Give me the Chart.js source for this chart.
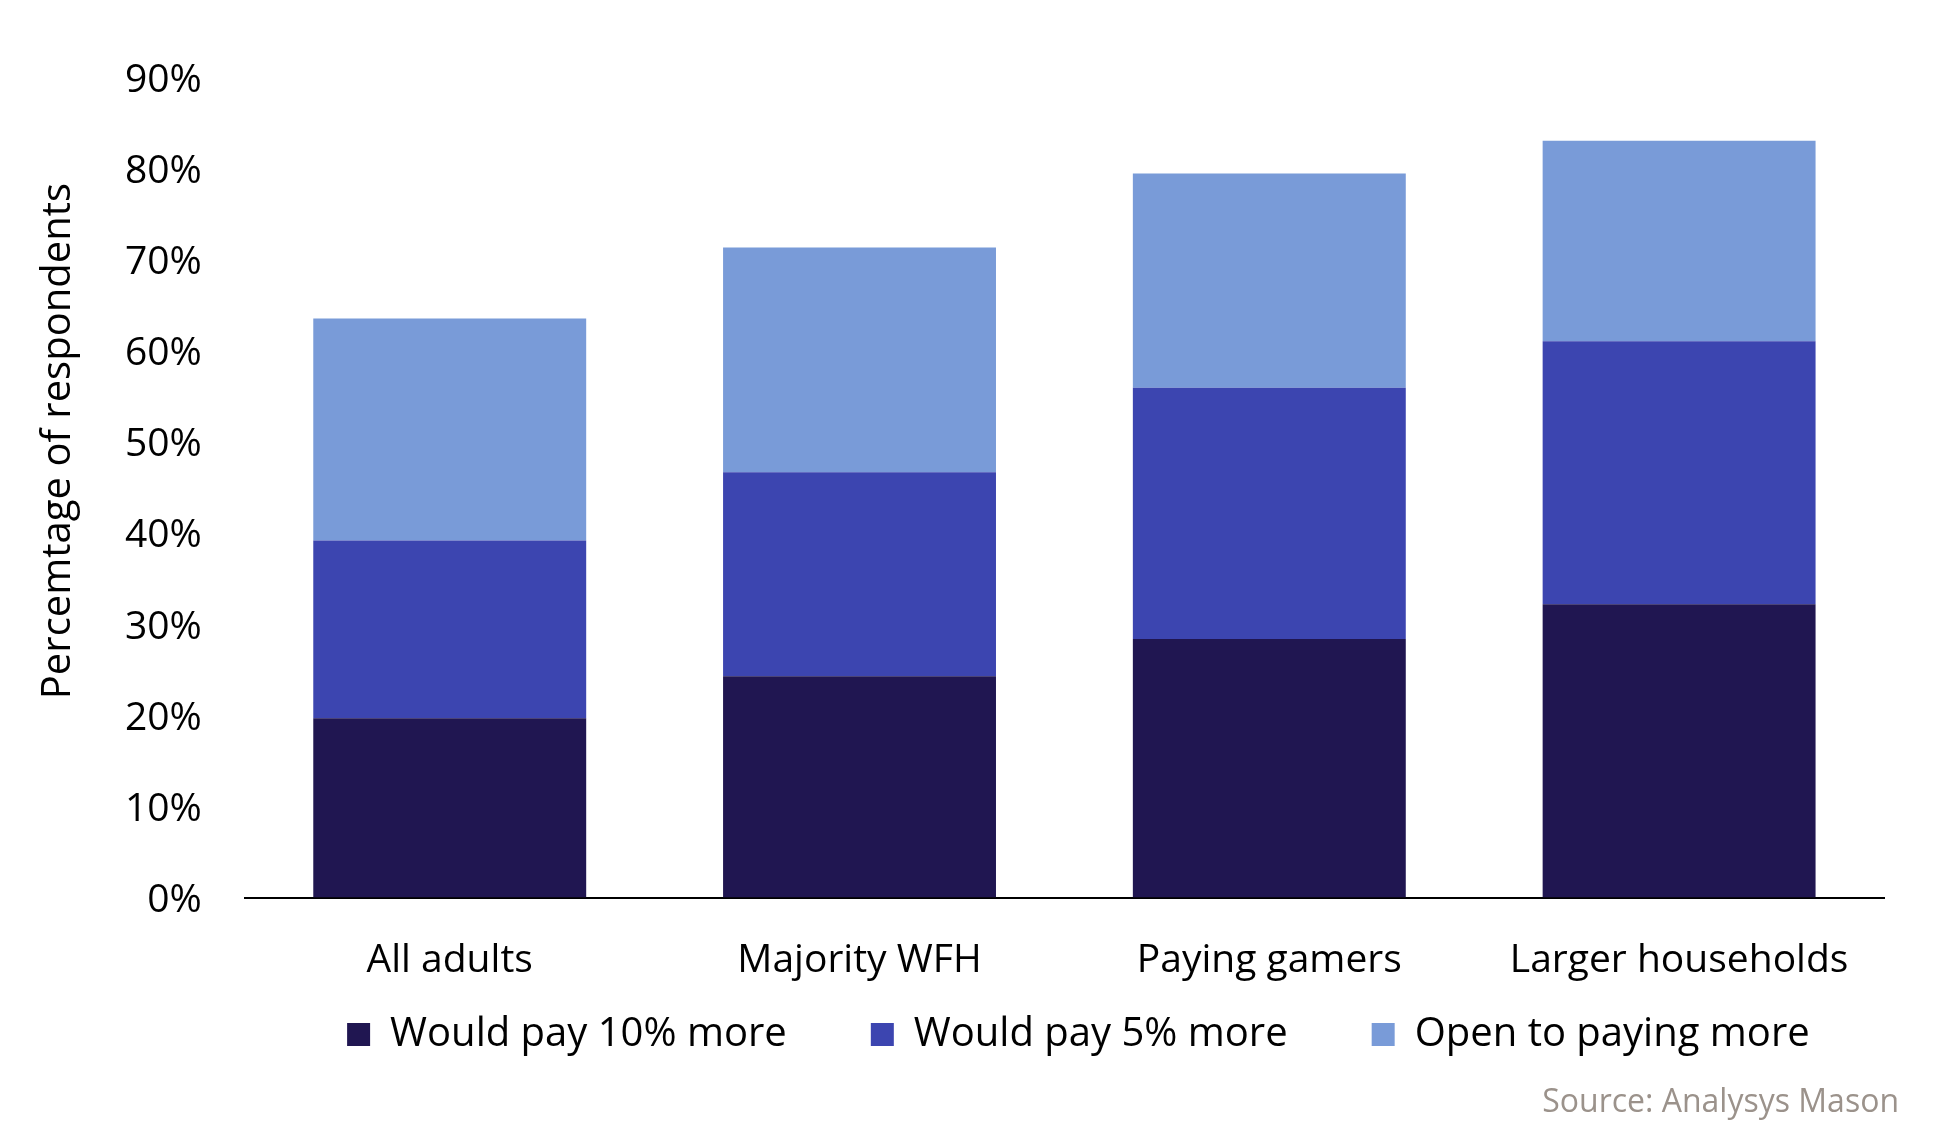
<!DOCTYPE html>
<html>
<head>
<meta charset="utf-8">
<script src="https://cdn.jsdelivr.net/npm/chart.js@4.4.1/dist/chart.umd.min.js"></script>
<style>
  html, body { margin: 0; padding: 0; background: #fff; }
  #wrap { width: 1934px; height: 1123px; }
</style>
</head>
<body>
<div id="wrap"><canvas id="barCanvas" width="1934" height="1123"></canvas></div>
<script>
const categories = ["All adults", "Majority WFH", "Paying gamers", "Larger households"];
const pay10 = [19.7, 24.3, 28.4, 32.2];
const pay5 = [19.5, 22.4, 27.6, 28.9];
const openToPay = [24.4, 24.7, 23.5, 22.0];
const seriesNames = ["Would pay 10% more", "Would pay 5% more", "Open to paying more"];
const seriesColors = ["#201651", "#3C45B0", "#799BD8"];
const yTitle = "Percemtage of respondents";
const sourceText = "Source: Analysys Mason";

const FONT = "Open Sans";

// the legend padding is used both as the gap between items and above them,
// so pull the legend box back up under the x labels after layout.
// also nudge legend and source note to the right like the original
const boxNudge = {
    id: "boxNudge",
    afterLayout(chart) {
        const lg = chart.legend;
        const lift = lg.options.labels.padding - 29;
        lg.top -= lift;
        lg.height += lift;
        lg.left += 14;
        lg.right += 14;
        chart.boxes.forEach((b) => {
            if (b.options && b.options.text === sourceText) {
                b.left += 15;
                b.right += 15;
            }
        });
    }
};

// y title sits a bit above the middle of the axis in the original
const yTitlePlugin = {
    id: "yTitlePlugin",
    afterDraw(chart) {
        const { ctx, chartArea } = chart;
        const cy = chartArea.top + (chartArea.bottom - chartArea.top) * 0.443;
        ctx.save();
        ctx.translate(59, cy);
        ctx.rotate(-Math.PI / 2);
        ctx.font = "40px '" + FONT + "'";
        ctx.fillStyle = "#000";
        ctx.textAlign = "center";
        ctx.textBaseline = "middle";
        ctx.fillText(yTitle, 0, 0);
        ctx.restore();
    }
};

const barCanvas = document.getElementById("barCanvas");
const barChart = new Chart(barCanvas, {
    type: "bar",
    data: {
        labels: categories,
        datasets: [
            { label: seriesNames[0], data: pay10, backgroundColor: seriesColors[0] },
            { label: seriesNames[1], data: pay5, backgroundColor: seriesColors[1] },
            { label: seriesNames[2], data: openToPay, backgroundColor: seriesColors[2] }
        ]
    },
    plugins: [boxNudge, yTitlePlugin],
    options: {
        responsive: false,
        animation: false,
        categoryPercentage: 1,
        barPercentage: 0.666,
        borderWidth: 0,
        layout: {
            padding: { top: 78, left: 82, right: 50, bottom: 0 }
        },
        scales: {
            x: {
                stacked: true,
                grid: { display: false, drawTicks: false },
                border: { display: true, color: "#000", width: 2 },
                ticks: {
                    padding: 40,
                    color: "#000",
                    font: { family: FONT, size: 39 }
                },
                afterFit: (scale) => { scale.height = 88; }
            },
            y: {
                stacked: true,
                min: 0,
                max: 90,
                grid: { display: false, drawTicks: false },
                border: { display: false },
                ticks: {
                    stepSize: 10,
                    padding: 43,
                    labelOffset: 3,
                    color: "#000",
                    font: { family: FONT, size: 39 },
                    callback: (v) => v + "%"
                }
            }
        },
        plugins: {
            tooltip: { enabled: false },
            legend: {
                position: "bottom",
                fullSize: false,
                maxHeight: 77,
                labels: {
                    boxWidth: 23,
                    boxHeight: 23,
                    padding: 84,
                    color: "#000",
                    font: { family: FONT, size: 40 }
                }
            },
            subtitle: {
                display: true,
                text: sourceText,
                position: "bottom",
                align: "end",
                color: "#9B928B",
                font: { family: FONT, size: 32, weight: "normal" },
                padding: { top: 21, bottom: 1 }
            }
        }
    }
})
</script>
</body>
</html>
